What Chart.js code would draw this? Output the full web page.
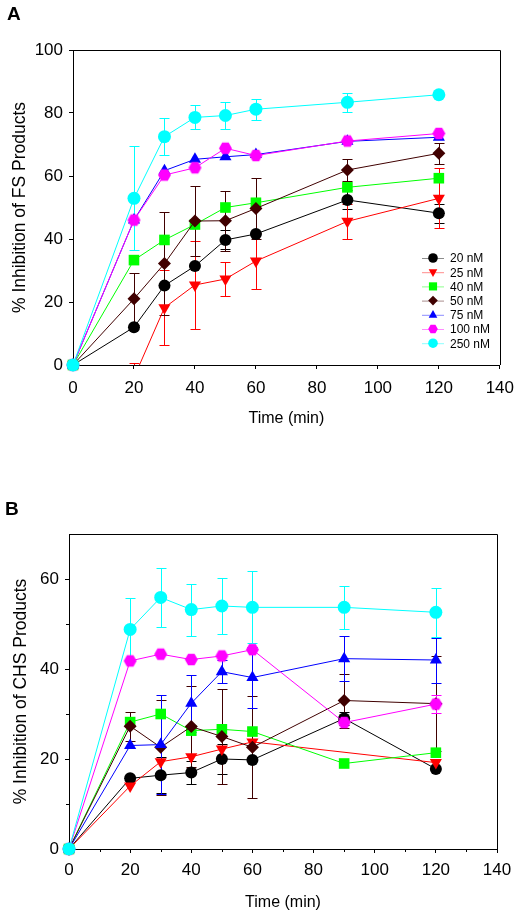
<!DOCTYPE html>
<html lang="en">
<head>
<meta charset="UTF-8">
<title>Inhibition of FS and CHS Products</title>
<script src="https://cdn.jsdelivr.net/npm/chart.js"></script>
<style>
  html, body { margin: 0; padding: 0; background: #fff; }
  body { width: 523px; height: 916px; position: relative; overflow: hidden; }
  canvas { position: absolute; left: 0; }
  #chartA { top: 0; }
  #chartB { top: 458px; }
</style>
</head>
<body>
<canvas id="chartA" width="523" height="458"></canvas>
<canvas id="chartB" width="523" height="458"></canvas>
<script>
// time points (min)
const times = [0, 20, 30, 40, 50, 60, 90, 120];
const concLabels = ['20 nM', '25 nM', '40 nM', '50 nM', '75 nM', '100 nM', '250 nM'];
const xTicks = [0, 20, 40, 60, 80, 100, 120, 140];

// Panel A: % inhibition of FS products
const fs20 = [0, 12, 25.2, 31.4, 39.7, 41.6, 52.4, 48.2];
const fs20Err = [0, 0, 0, 0, 3, 0, 3, 3];
const fs25 = [0, -4, 18.2, 25.4, 27.3, 33, 45.6, 52.9];
const fs25Err = [0, 4.7, 12, 14, 5.3, 9, 5.5, 9.5];
const fs40 = [0, 33.3, 39.7, 44.6, 50, 51.5, 56.4, 59.3];
const fs40Err = [0, 0, 0, 0, 0, 0, 0, 0];
const fs50 = [0, 21, 32.2, 45.7, 45.8, 49.7, 61.9, 67.2];
const fs50Err = [0, 8.3, 16.3, 11, 9.5, 9.6, 3.6, 3.4];
const fs75 = [0, 46, 61.7, 65.3, 66.1, 66.8, 71, 72.3];
const fs75Err = [0, 0, 0, 0, 0, 0, 0, 0];
const fs100 = [0, 46, 60.3, 62.6, 68.8, 66.5, 71.1, 73.5];
const fs100Err = [0, 0, 0, 0, 0, 0, 0, 0];
const fs250 = [0, 52.9, 72.5, 78.6, 79.2, 81.2, 83.4, 85.8];
const fs250Err = [0, 16.5, 5.8, 3.8, 4.3, 3.3, 3, 0];

// Panel B: % inhibition of CHS products
const chs20 = [0, 15.7, 16.4, 17, 20, 19.8, 29, 17.8];
const chs20Err = [0, 0, 4, 2.6, 3.3, 0, 1.5, 0];
const chs25 = [0, 14, 19.4, 20.5, 22.2, 23.8, null, 19.2];
const chs25Err = [0, 0, 0, 0, 0, 0, 0, 0];
const chs40 = [0, 28.2, 30, 26.3, 26.6, 26.1, 19, 21.4];
const chs40Err = [0, 0, 0, 0, 0, 0, 0, 0];
const chs50 = [0, 27.3, 22.6, 27.2, 25, 22.6, 33, 32.3];
const chs50Err = [0, 3.2, 10.6, 9, 10.6, 11.3, 6, 10.5];
const chs75 = [0, 23, 23.2, 32.4, 39.4, 38.1, 42.3, 42];
const chs75Err = [0, 0, 11, 6.3, 2.5, 6.7, 5, 5];
const chs100 = [0, 41.8, 43.3, 42.1, 42.9, 44.3, 28.1, 32.2];
const chs100Err = [0, 0, 0, 0, 0, 0, 0, 2];
const chs250 = [0, 48.8, 55.9, 53.2, 54, 53.7, 53.7, 52.6];
const chs250Err = [0, 7, 6.5, 5.8, 6.3, 8, 4.8, 5.5];

const colors = ['#000000', '#ff0000', '#00ff00', '#400000', '#0000ff', '#ff00ff', '#00ffff'];
const FONT = '"Liberation Sans", Arial, sans-serif';

// hexagon symbol for the 100 nM series
function hexagon(r, color) {
  const c = document.createElement('canvas');
  const s = Math.ceil(r * 2) + 2;
  c.width = s; c.height = s;
  const g = c.getContext('2d');
  g.fillStyle = color;
  g.beginPath();
  for (let i = 0; i < 6; i++) {
    const a = Math.PI / 3 * i;
    const px = s / 2 + r * Math.cos(a), py = s / 2 + r * Math.sin(a);
    i ? g.lineTo(px, py) : g.moveTo(px, py);
  }
  g.closePath();
  g.fill();
  return c;
}

const symbols = [
  {style: 'circle', rot: 0, r: 6},
  {style: 'triangle', rot: 180, r: 7},
  {style: 'rect', rot: 0, r: 7.5},
  {style: 'rectRot', rot: 0, r: 6.5},
  {style: 'triangle', rot: 0, r: 7},
  {style: hexagon(6.5, colors[5]), rot: 0, r: 6.5},
  {style: 'circle', rot: 0, r: 6.5}
];

function buildSets(values, errs, clipRed) {
  return values.map((vals, i) => {
    const pts = [];
    times.forEach((t, j) => {
      if (vals[j] !== null) pts.push({x: t, y: vals[j], e: errs[i][j]});
    });
    return {
      label: concLabels[i],
      data: pts,
      showLine: true,
      spanGaps: true,
      borderColor: colors[i],
      backgroundColor: colors[i],
      borderWidth: 1,
      pointStyle: symbols[i].style,
      rotation: symbols[i].rot,
      pointRadius: symbols[i].r,
      pointBorderWidth: 0,
      order: 6 - i,
      clip: (clipRed && i === 1) ? {left: false, top: false, right: false, bottom: 0} : false
    };
  });
}

// error bars with caps, drawn under the symbols
const errorBars = {
  id: 'errorBars',
  beforeDatasetsDraw(chart) {
    const {ctx, chartArea} = chart;
    const y = chart.scales.y;
    ctx.save();
    ctx.beginPath();
    ctx.rect(0, 0, chart.width, chartArea.bottom);
    ctx.clip();
    ctx.lineWidth = 1;
    chart.data.datasets.forEach((ds, di) => {
      const meta = chart.getDatasetMeta(di);
      ctx.strokeStyle = ds.borderColor;
      meta.data.forEach((pt, i) => {
        const d = ds.data[i];
        if (!d.e) return;
        const x = Math.round(pt.x) + 0.5;
        const top = Math.round(y.getPixelForValue(d.y + d.e)) + 0.5;
        const bot = Math.round(y.getPixelForValue(d.y - d.e)) + 0.5;
        ctx.beginPath();
        ctx.moveTo(x, top); ctx.lineTo(x, bot);
        ctx.moveTo(x - 5, top); ctx.lineTo(x + 5, top);
        ctx.moveTo(x - 5, bot); ctx.lineTo(x + 5, bot);
        ctx.stroke();
      });
    });
    ctx.restore();
  }
};

function legendMarker(ctx, sym, color, x, y, r) {
  ctx.fillStyle = color;
  ctx.beginPath();
  if (typeof sym.style !== 'string') {
    for (let i = 0; i < 6; i++) {
      const a = Math.PI / 3 * i;
      i ? ctx.lineTo(x + r * Math.cos(a), y + r * Math.sin(a)) : ctx.moveTo(x + r * Math.cos(a), y + r * Math.sin(a));
    }
  } else if (sym.style === 'circle') {
    ctx.arc(x, y, r, 0, Math.PI * 2);
  } else if (sym.style === 'rect') {
    ctx.rect(x - r * 0.85, y - r * 0.85, r * 1.7, r * 1.7);
  } else if (sym.style === 'rectRot') {
    ctx.moveTo(x, y - r); ctx.lineTo(x + r, y); ctx.lineTo(x, y + r); ctx.lineTo(x - r, y);
  } else {
    const s = sym.rot ? -1 : 1;
    ctx.moveTo(x, y - s * r); ctx.lineTo(x + r * 0.9, y + s * r * 0.6); ctx.lineTo(x - r * 0.9, y + s * r * 0.6);
  }
  ctx.closePath();
  ctx.fill();
}

// frame, minor ticks, panel letter and legend
const decor = {
  id: 'decor',
  afterDraw(chart, args, opts) {
    const {ctx, chartArea: a} = chart;
    const xs = chart.scales.x, ys = chart.scales.y;
    ctx.save();
    ctx.strokeStyle = '#000';
    ctx.lineWidth = 1;
    ctx.beginPath();
    ctx.moveTo(a.left, Math.round(a.top) + 0.5);
    ctx.lineTo(Math.round(a.right) + 0.5, Math.round(a.top) + 0.5);
    ctx.lineTo(Math.round(a.right) + 0.5, a.bottom);
    ctx.stroke();
    if (opts.minor) {
      ctx.beginPath();
      for (let v = 10; v < 140; v += 20) {
        const px = Math.round(xs.getPixelForValue(v)) + 0.5;
        ctx.moveTo(px, a.bottom); ctx.lineTo(px, a.bottom + 3);
      }
      for (let v = 10; v < 70; v += 20) {
        const py = Math.round(ys.getPixelForValue(v)) + 0.5;
        ctx.moveTo(a.left, py); ctx.lineTo(a.left - 3, py);
      }
      ctx.stroke();
    }
    ctx.fillStyle = '#000';
    ctx.font = 'bold 19px ' + FONT;
    ctx.textBaseline = 'middle';
    ctx.textAlign = 'left';
    ctx.fillText(opts.letter, opts.letterX, opts.letterY);
    if (opts.legend) {
      const L = opts.legend;
      ctx.font = '12px ' + FONT;
      concLabels.forEach((lab, i) => {
        const yy = L.y + i * L.step;
        ctx.globalAlpha = 0.45;
        ctx.strokeStyle = colors[i];
        ctx.beginPath();
        ctx.moveTo(L.x - 11, yy + 0.5); ctx.lineTo(L.x + 11, yy + 0.5);
        ctx.stroke();
        ctx.globalAlpha = 1;
        legendMarker(ctx, symbols[i], colors[i], L.x, yy, 4.8);
        ctx.fillStyle = '#000';
        ctx.fillText(lab, L.x + 17, yy + 1);
      });
    }
    ctx.restore();
  }
};

function makeChart(id, datasets, o) {
  return new Chart(document.getElementById(id), {
    type: 'scatter',
    data: {datasets},
    options: {
      responsive: false,
      animation: false,
      events: [],
      layout: {padding: {left: 0, top: o.top, right: o.right, bottom: 0}},
      plugins: {
        legend: {display: false},
        tooltip: {enabled: false},
        decor: o.decor
      },
      scales: {
        x: {
          type: 'linear', min: 0, max: 140,
          afterBuildTicks: s => { s.ticks = xTicks.map(v => ({value: v})); },
          ticks: {color: '#000', font: {family: FONT, size: 17}, padding: o.xPad, maxRotation: 0},
          grid: {drawOnChartArea: false, drawTicks: true, tickLength: 4, tickColor: '#000'},
          border: {color: '#000', width: 1},
          title: {display: true, text: 'Time (min)', color: '#000', font: {family: FONT, size: 16}, padding: {top: 0, bottom: o.xTitlePad}},
          afterFit: s => { s.height = o.xHeight; }
        },
        y: {
          type: 'linear', min: 0, max: o.yMax,
          afterBuildTicks: s => { s.ticks = o.yTicks.map(v => ({value: v})); },
          ticks: {color: '#000', font: {family: FONT, size: 17}, padding: 6},
          grid: {drawOnChartArea: false, drawTicks: true, tickLength: 4, tickColor: '#000'},
          border: {color: '#000', width: 1},
          title: {display: true, text: o.yTitle, color: '#000', font: {family: FONT, size: 17.5}, padding: {top: o.yTitlePad, bottom: 0}},
          afterFit: s => { s.width = o.yWidth; }
        }
      }
    },
    plugins: [errorBars, decor]
  });
}

makeChart('chartA',
  buildSets([fs20, fs25, fs40, fs50, fs75, fs100, fs250],
            [fs20Err, fs25Err, fs40Err, fs50Err, fs75Err, fs100Err, fs250Err], true),
  {
    top: 50, right: 20, yWidth: 73, xHeight: 93, yMax: 100,
    yTicks: [0, 20, 40, 60, 80, 100],
    xPad: 9, xTitlePad: 30, yTitlePad: 10,
    yTitle: '% Inhibition of FS Products',
    decor: {letter: 'A', letterX: 7, letterY: 15, minor: false,
            legend: {x: 433, y: 258, step: 14.2}}
  });

makeChart('chartB',
  buildSets([chs20, chs25, chs40, chs50, chs75, chs100, chs250],
            [chs20Err, chs25Err, chs40Err, chs50Err, chs75Err, chs100Err, chs250Err], false),
  {
    top: 76, right: 26, yWidth: 69, xHeight: 67, yMax: 70,
    yTicks: [0, 20, 40, 60],
    xPad: 7, xTitlePad: 4, yTitlePad: 11,
    yTitle: '% Inhibition of CHS Products',
    decor: {letter: 'B', letterX: 5, letterY: 52, minor: true}
  });
</script>
</body>
</html>
